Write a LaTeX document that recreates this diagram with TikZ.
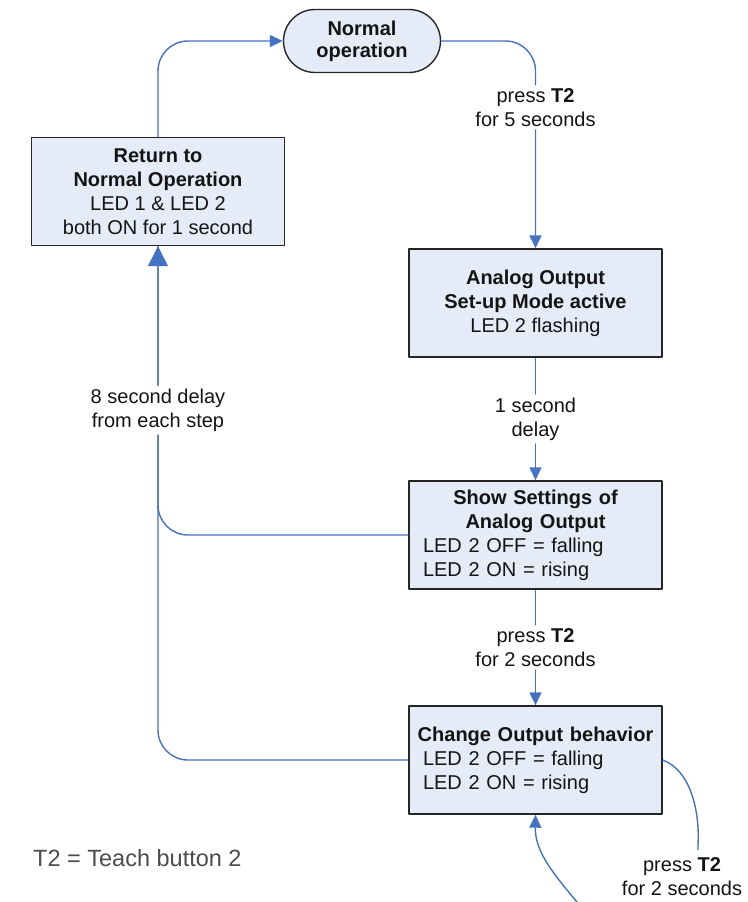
\documentclass[tikz,border=0pt]{standalone}
\usepackage{fontspec}
\setmainfont{Liberation Sans}
\usetikzlibrary{arrows.meta,shapes.misc}
\definecolor{flowblue}{RGB}{68,114,196}
\definecolor{boxfill}{RGB}{230,236,247}
\definecolor{inktext}{RGB}{20,20,20}
\newcommand\boxhead[1]{\makebox[225pt]{\bfseries #1}}
\tikzset{
  stepbox/.style={draw=black!85, line width=1.4pt, fill=boxfill, minimum width=253pt, minimum height=108pt, inner sep=0pt, text=inktext},
  termbox/.style={rounded rectangle, draw=black!85, line width=1.4pt, fill=boxfill, minimum width=157pt, minimum height=63pt, inner sep=0pt, align=center, text=inktext, font=\fontsize{20}{22}\selectfont\bfseries},
  flow/.style={draw=flowblue, line width=1.4pt, rounded corners=30pt, -{Triangle[length=13pt,width=12pt]}},
  lbl/.style={fill=white, inner sep=3pt, align=center, text=inktext},
}
\begin{document}
\begin{tikzpicture}[x=1pt, y=-1pt, font=\fontsize{20}{24}\selectfont, line join=round]
  \useasboundingbox (0,0) rectangle (747,902);
  \clip (0,0) rectangle (747,902);
  % states
  \node[termbox] (nop) at (362,41) {Normal\\ operation};
  \node[stepbox, align=center] (ret) at (158,191.5) {\textbf{Return to}\\ \textbf{Normal Operation}\\ LED 1 \& LED 2\\ both ON for 1 second};
  \node[stepbox, align=center] (ana) at (535.5,303) {\textbf{Analog Output}\\ \textbf{Set-up Mode active}\\ LED 2 flashing};
  \node[stepbox, text width=225pt, align=left] (shw) at (535.5,535) {\boxhead{Show Settings of}\\ \boxhead{Analog Output}\\ LED 2 OFF = falling\\ LED 2 ON = rising};
  \node[stepbox, text width=225pt, align=left] (chg) at (535.5,760) {\boxhead{Change Output behavior}\\ LED 2 OFF = falling\\ LED 2 ON = rising};
  % transitions
  \draw[flow] (ret.north) |- (nop.west);
  \draw[flow] (nop.east) -| node[lbl, pos=0.66] (lbltop) {press \textbf{T2}\\ for 5 seconds} (ana.north);
  \draw[flow] (ana.south) -- node[lbl] (lbldelay) {1 second\\ delay} (shw.north);
  \draw[flow] (shw.south) -- node[lbl] (lblpress) {press \textbf{T2}\\ for 2 seconds} (chg.north);
  \draw[flow, -] (chg.west) -| (ret.south);
  \draw[flow, -{Triangle[length=20pt,width=20pt]}] (shw.west) -| node[lbl, pos=0.716] (lblback) {8 second delay\\ from each step} (ret.south);
  \draw[flow, sharp corners] (chg.east) .. controls (690,770) and (700,810) .. (698,845)
    .. controls (700,960) and (605,935) .. (577,902) .. controls (550,870) and (535,850) .. (chg.south);
  \node[lbl, inner ysep=8pt] (lblloop) at (682,877) {press \textbf{T2}\\ for 2 seconds};
  % legend
  \node[anchor=west, inner sep=0pt, text=black!70, font=\fontsize{23.5}{28}\selectfont] (note) at (33,858) {T2 = Teach button 2};
\end{tikzpicture}
\end{document}
